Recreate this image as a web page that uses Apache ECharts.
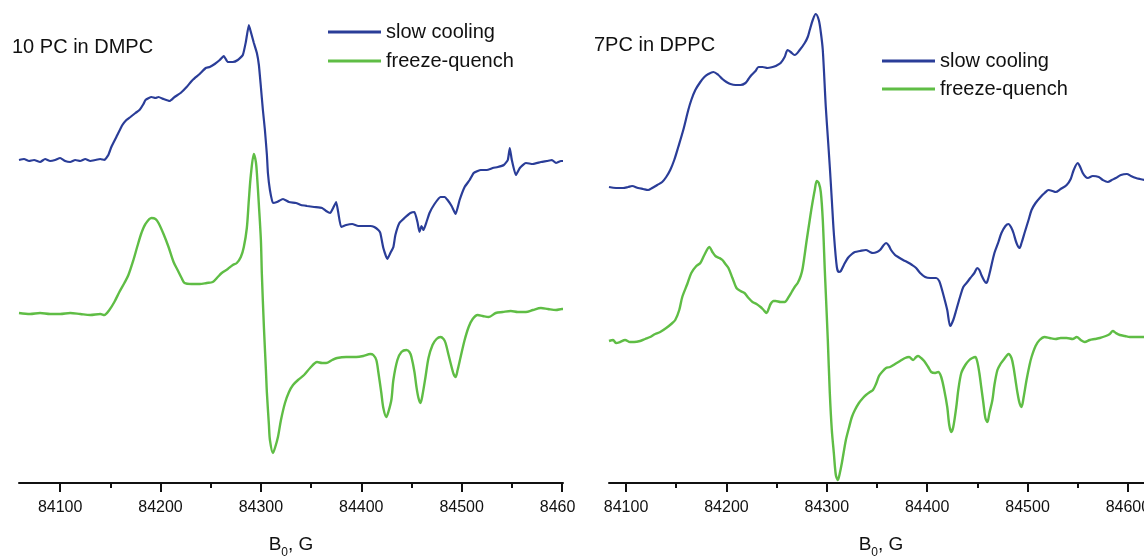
<!DOCTYPE html>
<html>
<head>
<meta charset="utf-8">
<script src="https://cdn.jsdelivr.net/npm/echarts@6/dist/echarts.min.js"></script>
<style>
  html, body { margin: 0; padding: 0; background: #fff; }
  #wrap { position: relative; width: 1144px; height: 558px; overflow: hidden; }
  #left { position: absolute; left: 0; top: 0; width: 575px; height: 558px; }
  #right { position: absolute; left: 575px; top: 0; width: 569px; height: 558px; }
</style>
</head>
<body>
<div id="wrap"><div id="left"></div><div id="right"></div></div>
<script>
// Magnetic field tick values (G)
const majorTicks = [84100, 84200, 84300, 84400, 84500, 84600];
const minorTicks = [84100, 84150, 84200, 84250, 84300, 84350, 84400, 84450, 84500, 84550, 84600];

// 10 PC in DMPC, slow cooling: field (G) and signal (arb. units, stacked)
const dmpcSlowField = [84059,84064,84069,84074,84080,84085,84090,84095,84100,84105,84110,84115,84120,84125,84130,84135,84140,84144,84148,84151,84156,84162,84166,84170,84175,84179,84183,84185,84191,84195,84198,84203,84209,84214,84220,84226,84232,84239,84245,84249,84254,84259,84263,84267,84272,84277,84282,84285,84288,84290,84293,84296,84298,84300,84302,84304,84306,84307,84309,84312,84316,84322,84328,84335,84340,84346,84353,84361,84365,84369,84372,84375,84377,84380,84385,84391,84397,84403,84409,84413,84417,84419,84422,84426,84429,84432,84434,84438,84443,84449,84453,84456,84458,84460,84462,84465,84468,84473,84479,84483,84486,84490,84494,84498,84503,84508,84512,84516,84519,84525,84531,84536,84542,84546,84548,84550,84554,84558,84564,84571,84579,84585,84590,84594,84599,84601];
const dmpcSlowSignal = [32.3,32.4,32.2,32.3,32.1,32.4,32.2,32.3,32.5,32.2,32.1,32.3,32.2,32.4,32.2,32.3,32.4,32.3,32.8,33.6,34.6,35.8,36.3,36.6,37.0,37.3,37.9,38.3,38.6,38.5,38.6,38.4,38.2,38.6,39.0,39.6,40.3,40.9,41.5,41.6,41.9,42.3,42.7,42.1,42.1,42.3,42.8,44.1,45.8,45.1,44.0,43.0,41.8,39.6,37.3,35.3,32.8,31.0,29.3,28.0,28.1,28.4,28.1,28.0,27.8,27.7,27.6,27.5,27.2,27.0,27.5,28.1,27.1,25.6,25.8,25.9,25.7,25.7,25.7,25.6,25.3,25.0,23.5,22.4,23.0,23.6,24.8,26.0,26.5,27.0,27.1,26.1,25.1,25.7,25.3,26.1,27.0,27.9,28.6,28.6,28.3,27.7,26.9,28.3,29.6,30.3,31.0,31.2,31.3,31.3,31.5,31.6,31.8,32.3,33.5,32.3,30.8,31.5,32.0,31.9,32.1,32.2,32.3,32.0,32.2,32.2];

// 10 PC in DMPC, freeze-quench
const dmpcQuenchField = [84059,84070,84080,84090,84100,84110,84120,84130,84140,84144,84149,84154,84159,84164,84168,84173,84177,84181,84185,84191,84195,84198,84203,84208,84213,84217,84221,84224,84231,84239,84246,84252,84257,84261,84267,84272,84276,84280,84283,84286,84288,84290,84293,84295,84296,84298,84300,84301,84303,84305,84306,84308,84309,84312,84314,84317,84320,84324,84328,84332,84337,84343,84349,84356,84361,84365,84371,84376,84385,84395,84402,84409,84412,84415,84417,84420,84422,84425,84427,84430,84432,84436,84440,84445,84448,84450,84453,84455,84457,84459,84461,84464,84467,84471,84475,84479,84482,84484,84487,84490,84492,84494,84496,84499,84503,84507,84511,84516,84521,84527,84534,84541,84549,84556,84564,84571,84579,84586,84594,84600,84601];
const dmpcQuenchSignal = [17.0,16.9,17.0,16.9,16.9,17.0,16.9,16.8,16.9,16.8,17.3,18.1,19.1,20.0,20.8,22.3,23.7,25.0,25.9,26.5,26.4,26.0,24.9,23.6,22.1,21.3,20.5,20.0,19.9,19.9,20.0,20.1,20.6,21.0,21.4,21.8,22.0,22.6,23.6,25.5,28.3,30.8,32.9,32.1,31.0,27.8,24.3,20.8,15.6,11.3,9.0,5.8,4.3,3.0,3.5,4.6,6.3,8.0,9.1,9.8,10.3,10.8,11.5,12.1,12.0,12.0,12.3,12.5,12.6,12.6,12.7,12.9,12.8,12.3,11.1,9.0,7.5,6.6,7.1,8.3,10.3,12.3,13.1,13.3,13.1,12.6,11.1,9.6,8.5,8.0,8.8,10.6,12.5,13.8,14.4,14.6,14.4,14.0,12.8,11.6,10.9,10.6,11.3,12.6,14.3,15.6,16.4,16.8,16.7,16.6,17.0,17.1,17.2,17.1,17.1,17.3,17.5,17.4,17.3,17.4,17.4];

// 7PC in DPPC, slow cooling
const dppcSlowField = [84083,84090,84097,84102,84106,84112,84117,84122,84126,84131,84136,84140,84144,84148,84152,84157,84162,84165,84169,84174,84178,84182,84187,84192,84196,84200,84204,84209,84214,84219,84222,84225,84229,84232,84236,84241,84246,84249,84254,84258,84261,84264,84268,84273,84278,84281,84283,84286,84289,84292,84294,84296,84299,84301,84303,84305,84307,84310,84312,84314,84317,84321,84325,84328,84333,84339,84343,84346,84350,84353,84356,84359,84362,84364,84368,84371,84376,84380,84385,84389,84393,84398,84403,84409,84412,84414,84417,84420,84423,84426,84429,84433,84436,84440,84443,84447,84450,84452,84454,84457,84459,84461,84463,84467,84471,84474,84478,84481,84484,84486,84489,84492,84494,84497,84501,84504,84508,84513,84517,84521,84525,84528,84533,84539,84543,84546,84550,84552,84555,84558,84560,84565,84571,84575,84580,84584,84588,84593,84599,84603,84608,84612,84617,84624];
const dppcSlowSignal = [29.6,29.5,29.5,29.6,29.7,29.5,29.4,29.3,29.5,29.8,30.1,30.6,31.3,32.3,33.6,35.3,37.3,38.3,39.3,40.1,40.6,40.9,41.1,40.8,40.4,40.1,39.9,39.8,39.8,40.0,40.4,40.8,41.2,41.6,41.6,41.5,41.6,41.7,42.0,42.6,43.3,43.1,42.8,43.3,44.0,44.6,45.3,46.3,46.9,46.3,45.1,43.3,37.6,34.6,31.6,28.3,25.0,21.6,21.1,21.2,21.8,22.5,22.9,23.1,23.2,23.3,23.1,23.0,23.1,23.3,23.7,24.0,23.7,23.3,22.8,22.6,22.3,22.1,21.8,21.5,21.0,20.6,20.5,20.5,20.2,19.6,18.5,17.3,15.7,16.3,17.3,18.7,19.6,20.1,20.5,21.0,21.5,21.3,20.8,20.2,20.0,20.5,21.3,23.0,24.1,25.0,25.7,25.9,25.5,25.0,24.0,23.5,24.0,25.0,26.3,27.3,28.0,28.6,29.0,29.3,29.2,29.1,29.4,29.8,30.4,31.3,32.0,31.7,31.0,30.6,30.5,30.7,30.6,30.3,30.1,30.3,30.5,30.8,30.9,30.7,30.5,30.4,30.3,30.2];

// 7PC in DPPC, freeze-quench
const dppcQuenchField = [84083,84087,84090,84094,84099,84104,84108,84114,84119,84124,84129,84134,84140,84145,84149,84153,84156,84161,84165,84170,84174,84178,84183,84186,84189,84193,84196,84199,84202,84206,84210,84214,84218,84222,84226,84230,84234,84237,84240,84242,84244,84247,84249,84254,84258,84262,84265,84268,84271,84274,84276,84280,84283,84285,84288,84290,84292,84294,84296,84298,84299,84301,84303,84305,84307,84309,84311,84313,84315,84319,84322,84325,84328,84332,84336,84339,84343,84346,84349,84352,84355,84359,84363,84368,84373,84378,84382,84386,84389,84391,84394,84397,84401,84404,84408,84411,84414,84417,84420,84422,84424,84426,84429,84431,84434,84438,84442,84445,84448,84450,84452,84454,84456,84458,84460,84462,84465,84467,84470,84473,84476,84479,84481,84484,84486,84488,84490,84492,84494,84496,84499,84502,84504,84508,84512,84517,84522,84528,84533,84539,84545,84549,84553,84557,84562,84567,84572,84578,84582,84585,84588,84592,84597,84602,84609,84616,84624];
const dppcQuenchSignal = [14.2,14.3,14.0,14.1,14.3,14.1,14.1,14.2,14.4,14.6,14.9,15.1,15.5,15.9,16.3,17.3,18.6,19.9,21.0,21.7,22.0,22.8,23.6,23.1,22.7,22.5,22.3,21.9,21.5,20.5,19.5,19.2,19.0,18.5,18.1,17.9,17.6,17.3,17.0,17.4,17.9,18.2,18.2,18.1,18.1,18.6,19.1,19.6,20.0,20.7,21.5,24.3,26.3,27.6,29.3,30.2,30.0,29.1,26.3,21.3,19.0,14.3,9.0,5.3,3.0,0.8,0.3,1.0,2.0,4.3,5.5,6.6,7.3,8.0,8.5,8.8,9.1,9.3,9.9,10.7,11.1,11.5,11.6,11.9,12.2,12.5,12.6,12.3,12.6,12.7,12.5,12.2,11.6,11.1,11.0,11.1,10.6,9.3,7.6,5.8,5.1,5.6,7.6,9.3,11.0,11.8,12.3,12.5,12.6,12.1,11.0,9.5,8.0,6.5,6.1,7.0,8.3,9.8,11.3,11.9,12.3,12.7,12.9,12.5,11.6,10.3,9.0,8.0,7.6,8.5,10.3,11.8,12.6,13.7,14.3,14.6,14.5,14.4,14.5,14.5,14.4,14.6,14.3,14.1,14.3,14.4,14.5,14.7,14.9,15.2,15.0,14.8,14.7,14.6,14.6,14.6,14.5];

const BLUE = '#2a3d98';
const GREEN = '#5fbd45';
const INK = '#111';
const FONT = 'Liberation Sans, Arial, sans-serif';

function pairs(xs, ys) {
  return xs.map((x, i) => [x, ys[i]]);
}

function panelOption(cfg) {
  return {
    animation: false,
    backgroundColor: '#fff',
    title: {
      text: cfg.title, left: cfg.titleLeft, top: cfg.titleTop, padding: 0,
      textStyle: { fontFamily: FONT, fontSize: 20, fontWeight: 'normal', color: INK }
    },
    legend: {
      orient: 'vertical', left: cfg.legendLeft, top: cfg.legendTop, padding: 0,
      itemGap: cfg.legendGap, itemWidth: 53, itemHeight: 3, icon: 'rect',
      textStyle: { fontFamily: FONT, fontSize: 20, color: INK },
      data: ['slow cooling', 'freeze-quench']
    },
    grid: { left: cfg.gridLeft, width: 544, top: 0, bottom: 75, containLabel: false, outerBoundsMode: 'none' },
    xAxis: [
      {
        type: 'value', min: cfg.min, max: cfg.max, position: 'bottom',
        axisLine: { show: true, lineStyle: { color: INK, width: 2 } },
        axisTick: { show: true, customValues: majorTicks, length: 9, lineStyle: { color: INK, width: 2 } },
        axisLabel: {
          customValues: majorTicks, margin: 17, fontFamily: FONT, fontSize: 16, color: INK,
          formatter: (v) => String(v)
        },
        splitLine: { show: false },
        name: '{a|B}{s|0}{a|, G}', nameLocation: 'middle', nameGap: 52,
        nameTextStyle: {
          fontFamily: FONT, color: INK,
          rich: {
            a: { fontFamily: FONT, fontSize: 19, color: INK, verticalAlign: 'top', lineHeight: 22 },
            s: { fontFamily: FONT, fontSize: 12, color: INK, verticalAlign: 'top', lineHeight: 14, padding: [12, 0, 0, 0] }
          }
        }
      },
      {
        type: 'value', min: cfg.min, max: cfg.max, position: 'bottom',
        axisLine: { show: false },
        axisTick: { show: true, customValues: minorTicks, length: 5, lineStyle: { color: INK, width: 2 } },
        axisLabel: { show: false },
        splitLine: { show: false }
      }
    ],
    yAxis: { type: 'value', min: 0, max: 48.3, show: false },
    series: [
      {
        name: 'slow cooling', type: 'line', xAxisIndex: 0, showSymbol: false,
        smooth: cfg.slowSmooth, color: BLUE,
        lineStyle: { color: BLUE, width: 2.2 },
        data: pairs(cfg.slowField, cfg.slowSignal)
      },
      {
        name: 'freeze-quench', type: 'line', xAxisIndex: 0, showSymbol: false,
        smooth: 0.3, color: GREEN,
        lineStyle: { color: GREEN, width: 2.4 },
        data: pairs(cfg.quenchField, cfg.quenchSignal)
      }
    ]
  };
}

const leftChart = echarts.init(document.getElementById('left'));
leftChart.setOption(panelOption({
  title: '10 PC in DMPC', titleLeft: 12, titleTop: 37,
  legendLeft: 328, legendTop: 22, legendGap: 9,
  gridLeft: 19, min: 84059, max: 84601, slowSmooth: 0.15,
  slowField: dmpcSlowField, slowSignal: dmpcSlowSignal,
  quenchField: dmpcQuenchField, quenchSignal: dmpcQuenchSignal
}));

const rightChart = echarts.init(document.getElementById('right'));
rightChart.setOption(panelOption({
  title: '7PC in DPPC', titleLeft: 19, titleTop: 35,
  legendLeft: 307, legendTop: 51, legendGap: 8,
  gridLeft: 34, min: 84083, max: 84625, slowSmooth: 0.3,
  slowField: dppcSlowField, slowSignal: dppcSlowSignal,
  quenchField: dppcQuenchField, quenchSignal: dppcQuenchSignal
}));
</script>
</body>
</html>
